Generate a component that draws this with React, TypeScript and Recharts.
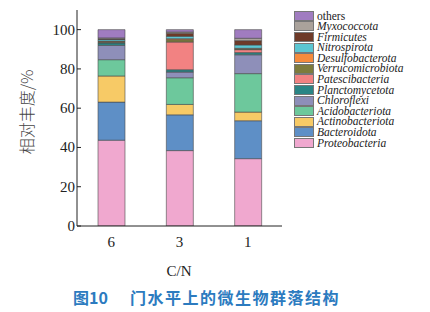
import { BarChart, Bar, XAxis, YAxis } from 'recharts'

const categories = ['6', '3', '1']

// 自下而上的堆叠顺序
const phyla = [
  'Proteobacteria',
  'Bacteroidota',
  'Actinobacteriota',
  'Acidobacteriota',
  'Chloroflexi',
  'Planctomycetota',
  'Patescibacteria',
  'Verrucomicrobiota',
  'Desulfobacterota',
  'Nitrospirota',
  'Firmicutes',
  'Myxococcota',
  'others',
]

// 相对丰度 %，顺序对应 categories
const proteobacteria = [43.7, 38.4, 34.3]
const bacteroidota = [19.4, 18.2, 19.3]
const actinobacteriota = [13.3, 5.3, 4.4]
const acidobacteriota = [8.3, 13.6, 19.6]
const chloroflexi = [7.3, 2.9, 9.6]
const planctomycetota = [1.2, 1.2, 1.1]
const patescibacteria = [0.3, 14.1, 1.5]
const verrucomicrobiota = [0.5, 1.2, 0.4]
const desulfobacterota = [0.2, 0.5, 0.3]
const nitrospirota = [0.8, 1.2, 1.7]
const firmicutes = [0.3, 1.6, 2.2]
const myxococcota = [0.5, 0.6, 1.2]
const others = [4.2, 1.2, 4.4]

const yTicks = [0, 20, 40, 60, 80, 100]

const values: Record<string, number[]> = {
  Proteobacteria: proteobacteria,
  Bacteroidota: bacteroidota,
  Actinobacteriota: actinobacteriota,
  Acidobacteriota: acidobacteriota,
  Chloroflexi: chloroflexi,
  Planctomycetota: planctomycetota,
  Patescibacteria: patescibacteria,
  Verrucomicrobiota: verrucomicrobiota,
  Desulfobacterota: desulfobacterota,
  Nitrospirota: nitrospirota,
  Firmicutes: firmicutes,
  Myxococcota: myxococcota,
  others: others,
}

const COLORS: Record<string, string> = {
  Proteobacteria: '#f0a8cf',
  Bacteroidota: '#5e8fc6',
  Actinobacteriota: '#f7ca66',
  Acidobacteriota: '#6dc89c',
  Chloroflexi: '#8e8fb9',
  Planctomycetota: '#2a8585',
  Patescibacteria: '#f28282',
  Verrucomicrobiota: '#7d7b3c',
  Desulfobacterota: '#f58b3c',
  Nitrospirota: '#5cc6d2',
  Firmicutes: '#6e3a28',
  Myxococcota: '#aaa29b',
  others: '#a07cc0',
}

const data = categories.map((c, i) => {
  const row: Record<string, string | number> = { cn: c }
  phyla.forEach((p) => (row[p] = values[p][i]))
  return row
})

const serif = '"Liberation Serif", "DejaVu Serif", serif'

function YTick({ x, y, payload }: { x?: number; y?: number; payload?: { value: number } }) {
  return (
    <g>
      <line x1={x} x2={(x ?? 0) + 4} y1={y} y2={y} stroke="#222" strokeWidth={1} />
      <text x={(x ?? 0) - 2} y={y} dy={5} textAnchor="end" fontSize={15} fontFamily={serif} fill="#222">
        {payload?.value}
      </text>
    </g>
  )
}

export default function App() {
  return (
    <div style={{ position: 'absolute', left: 0, top: 0, width: 430, height: 312, background: '#fff' }}>
      <BarChart
        width={430}
        height={312}
        data={data}
        margin={{ top: 10, right: 148, left: 27, bottom: 56 }}
        barSize={27}
      >
        <XAxis
          dataKey="cn"
          tickLine={false}
          axisLine={{ stroke: '#222' }}
          tick={{ fill: '#222', fontSize: 15, fontFamily: serif }}
          tickMargin={4}
        />
        <YAxis
          domain={[0, 110]}
          ticks={yTicks}
          width={50}
          tickLine={false}
          tickSize={0}
          tickMargin={0}
          axisLine={{ stroke: '#222' }}
          tick={<YTick />}
          allowDataOverflow
        />
        {phyla.map((p) => (
          <Bar
            key={p}
            dataKey={p}
            stackId="a"
            fill={COLORS[p]}
            stroke="#4a4a4a"
            strokeWidth={0.6}
            isAnimationActive={false}
          />
        ))}
      </BarChart>

      {/* 图例：从上到下与堆叠顺序相反 */}
      <div style={{ position: 'absolute', left: 294, top: 10.5 }}>
        {[...phyla].reverse().map((p) => (
          <div key={p} style={{ display: 'flex', alignItems: 'center', height: 10.6 }}>
            <span
              style={{
                display: 'inline-block',
                width: 18,
                height: 8,
                background: COLORS[p],
                border: '1px solid #777',
                marginRight: 3,
              }}
            />
            <span
              style={{
                fontFamily: serif,
                fontSize: 11.5,
                fontStyle: p === 'others' ? 'normal' : 'italic',
                color: '#222',
                lineHeight: '10.6px',
              }}
            >
              {p}
            </span>
          </div>
        ))}
      </div>

      <div
        style={{
          position: 'absolute',
          left: 26,
          top: 112,
          transform: 'translate(-50%, -50%) rotate(-90deg)',
          whiteSpace: 'nowrap',
          fontFamily: '"Noto Sans CJK SC", sans-serif',
          fontSize: 16,
          color: '#444',
          fontWeight: 300,
        }}
      >
        相对丰度/%
      </div>

      <div
        style={{
          position: 'absolute',
          left: 179,
          top: 271,
          transform: 'translate(-50%, -50%)',
          fontFamily: serif,
          fontSize: 15,
          color: '#222',
        }}
      >
        C/N
      </div>

      <div
        style={{
          position: 'absolute',
          left: 73,
          top: 287,
          whiteSpace: 'nowrap',
          fontFamily: '"Noto Sans CJK SC", sans-serif',
          fontSize: 16,
          fontWeight: 700,
          color: '#2c7bbf',
          lineHeight: '20px',
        }}
      >
        图10
        <span style={{ marginLeft: 22, letterSpacing: 1.5 }}>门水平上的微生物群落结构</span>
      </div>
    </div>
  )
}
